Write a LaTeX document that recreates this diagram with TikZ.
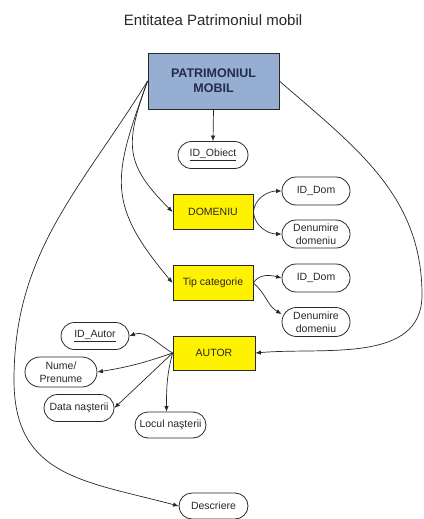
\documentclass[tikz,border=0pt]{standalone}
\usepackage{fontspec}
\setmainfont{Liberation Sans}
\usetikzlibrary{arrows.meta,shapes.misc}
\definecolor{pmblue}{RGB}{150,174,210}
\definecolor{pmtext}{RGB}{35,45,75}
\definecolor{ink}{RGB}{40,40,40}
\begin{document}
\begin{tikzpicture}[x=1pt,y=1pt,
  entity/.style={draw=ink, line width=0.8pt, fill=yellow, minimum width=80pt,
    minimum height=35pt, inner sep=0pt, text=ink, align=center,
    font=\fontsize{10.5}{12.5}\selectfont},
  attr/.style={rounded rectangle, draw=ink, line width=0.8pt, fill=white,
    minimum width=68pt, minimum height=28pt, inner sep=0pt, text=ink,
    align=center, font=\fontsize{10.5}{12.5}\selectfont},
  link/.style={draw=ink, line width=0.7pt, -{Latex[length=5.5pt,width=4.5pt]}},
]
\useasboundingbox (0,0) rectangle (423,-519);

% title
\node[font=\fontsize{15}{18}\selectfont, text=ink] (title) at (213,-20)
  {Entitatea Patrimoniul mobil};

% main entity
\node[draw=ink, line width=0.8pt, fill=pmblue, minimum width=131pt,
  minimum height=56pt, inner sep=0pt, align=center, text=pmtext,
  font=\fontsize{12.5}{15}\selectfont\bfseries] (pm) at (213.5,-81)
  {PATRIMONIUL\\MOBIL};

\node[attr, minimum width=70pt, minimum height=27pt] (idob) at (213,-155)
  {\underline{ID\_Obiect}};

% sub-entities
\node[entity] (dom) at (213,-212) {DOMENIU};
\node[entity] (tip) at (213,-283) {Tip categorie};
\node[entity, minimum width=82pt, minimum height=34pt] (autor) at (214,-353) {AUTOR};

% attributes of DOMENIU and Tip categorie
\node[attr] (iddom1) at (316,-191) {ID\_Dom};
\node[attr] (den1) at (316,-234) {Denumire\\domeniu};
\node[attr] (iddom2) at (316,-278) {ID\_Dom};
\node[attr, minimum height=29pt] (den2) at (316,-322) {Denumire\\domeniu};

% attributes of AUTOR
\node[attr, minimum height=27pt] (idaut) at (95,-336) {\underline{ID\_Autor}};
\node[attr, minimum width=72pt, minimum height=30pt] (nume) at (61,-372) {Nume/\\Prenume};
\node[attr, minimum width=70pt, minimum height=27pt] (data) at (79,-408) {Data naşterii};
\node[attr, minimum width=71pt, minimum height=26pt] (locul) at (170.5,-425) {Locul naşterii};

\node[attr, minimum width=69pt, minimum height=26pt] (descr) at (213.5,-506) {Descriere};

% connectors from the main entity
\draw[link] (pm.south) -- (idob.north);
\draw[link] (pm.west) to[out=-110, in=135, looseness=1.3] (dom.west);
\draw[link] (pm.west) to[out=-110, in=130, looseness=1.3] (tip.west);
\draw[link] (pm.west) .. controls (80,-190) and (14,-252) .. (14,-380)
  .. controls (14,-477) and (85,-481) .. (descr.west);
\draw[link] (pm.east) .. controls (355,-147) and (422,-195) .. (422,-295)
  .. controls (422,-364) and (324,-347) .. (autor.east);

% DOMENIU / Tip categorie attributes
\draw[link] (dom.east) to[out=85, in=180] (iddom1.west);
\draw[link] (dom.east) to[out=-85, in=180] (den1.west);
\draw[link] (tip.east) to[out=60, in=165] (iddom2.west);
\draw[link] (tip.east) to[out=-40, in=150] ([yshift=8pt]den2.west);

% AUTOR attributes
\draw[link] (autor.west) to[out=150, in=20] (idaut.east);
\draw[link] (autor.west) to[bend left=5] (nume.east);
\draw[link] (autor.west) -- (data.east);
\draw[link] (autor.west) to[out=-105, in=90] ([xshift=-4pt]locul.north);
\end{tikzpicture}
\end{document}
